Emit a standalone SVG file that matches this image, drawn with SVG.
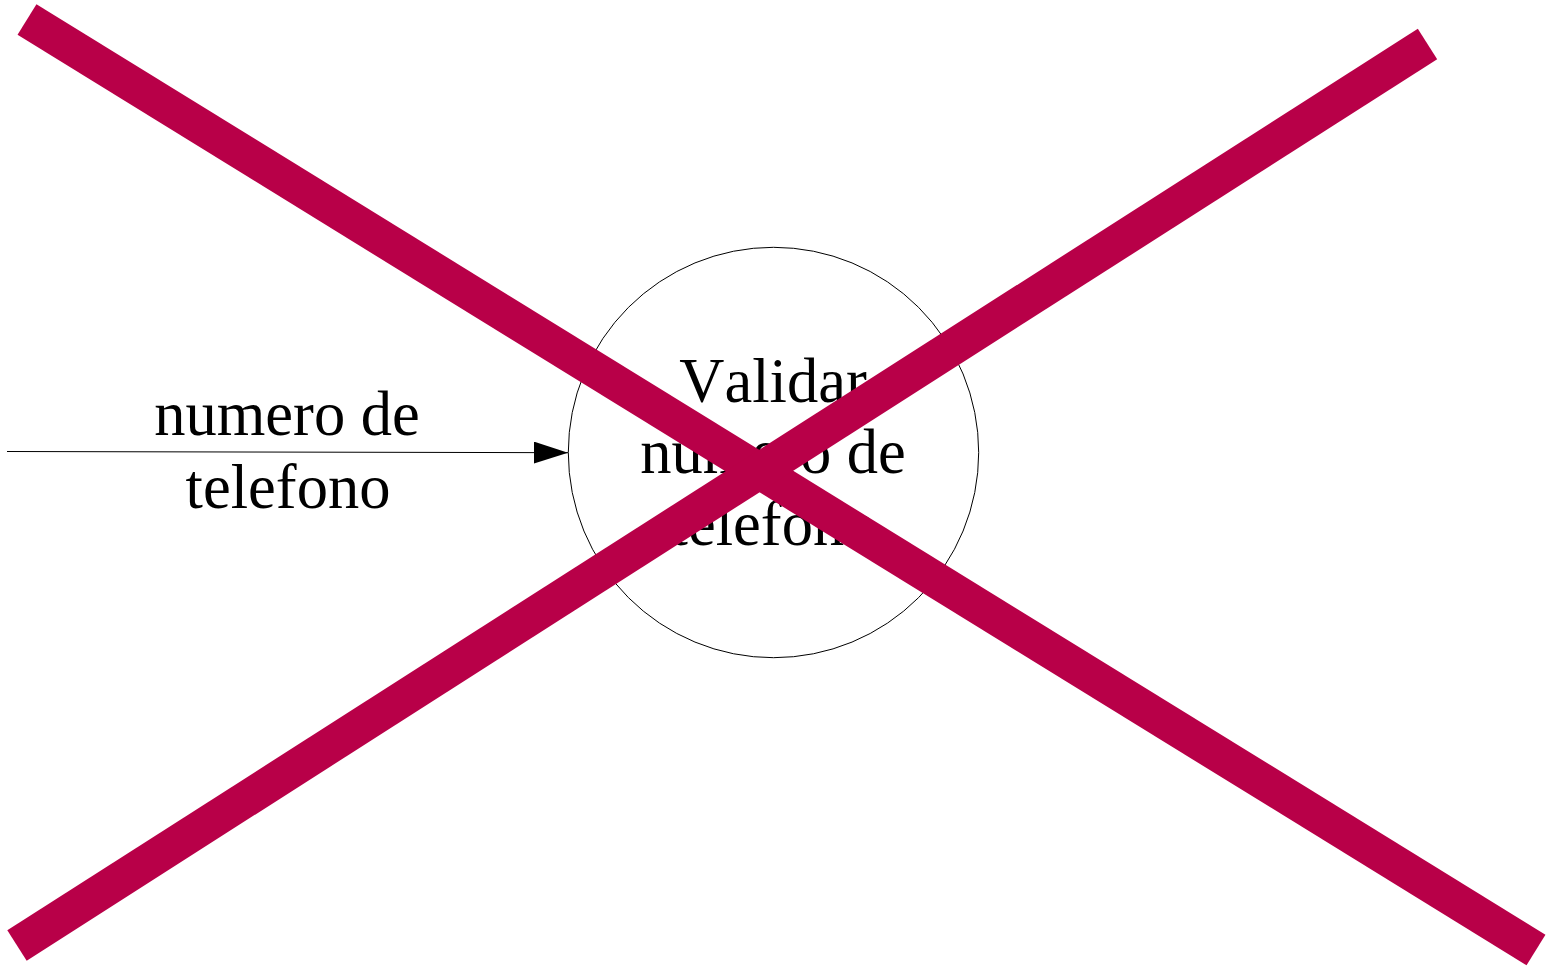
<svg xmlns="http://www.w3.org/2000/svg" width="1551" height="969" viewBox="0 0 1551 969">
<style>
.t{font-family:"Liberation Serif","Times New Roman",serif;font-size:62.5px;fill:#000;text-anchor:middle;font-kerning:none}
.x{stroke:#B80048;stroke-width:36;stroke-linecap:butt;fill:none}
</style>
<defs>
<marker id="ah" markerUnits="userSpaceOnUse" markerWidth="36" markerHeight="24" refX="34" refY="11" orient="auto">
<path d="M0,0 L34,11 L0,22 Z" fill="#000"/>
</marker>
</defs>
<rect width="1551" height="969" fill="#fff"/>
<g id="connectors">
<line x1="7" y1="451.5" x2="568" y2="452.7" stroke="#000" stroke-width="1" marker-end="url(#ah)"/>
<text class="t" x="287" y="435">numero de</text>
<text class="t" x="288" y="508">telefono</text>
</g>
<g id="process">
<circle cx="773.5" cy="452.5" r="205.2" fill="#fff" stroke="#000" stroke-width="1"/>
<text class="t" x="773" y="402">Validar</text>
<text class="t" x="773" y="473">numero de</text>
<text class="t" x="773" y="545">telefono</text>
</g>
<g id="cross">
<line class="x" x1="27" y1="19.5" x2="1536" y2="950"/>
<line class="x" x1="1427.5" y1="44" x2="17" y2="945.5"/>
</g>
</svg>
